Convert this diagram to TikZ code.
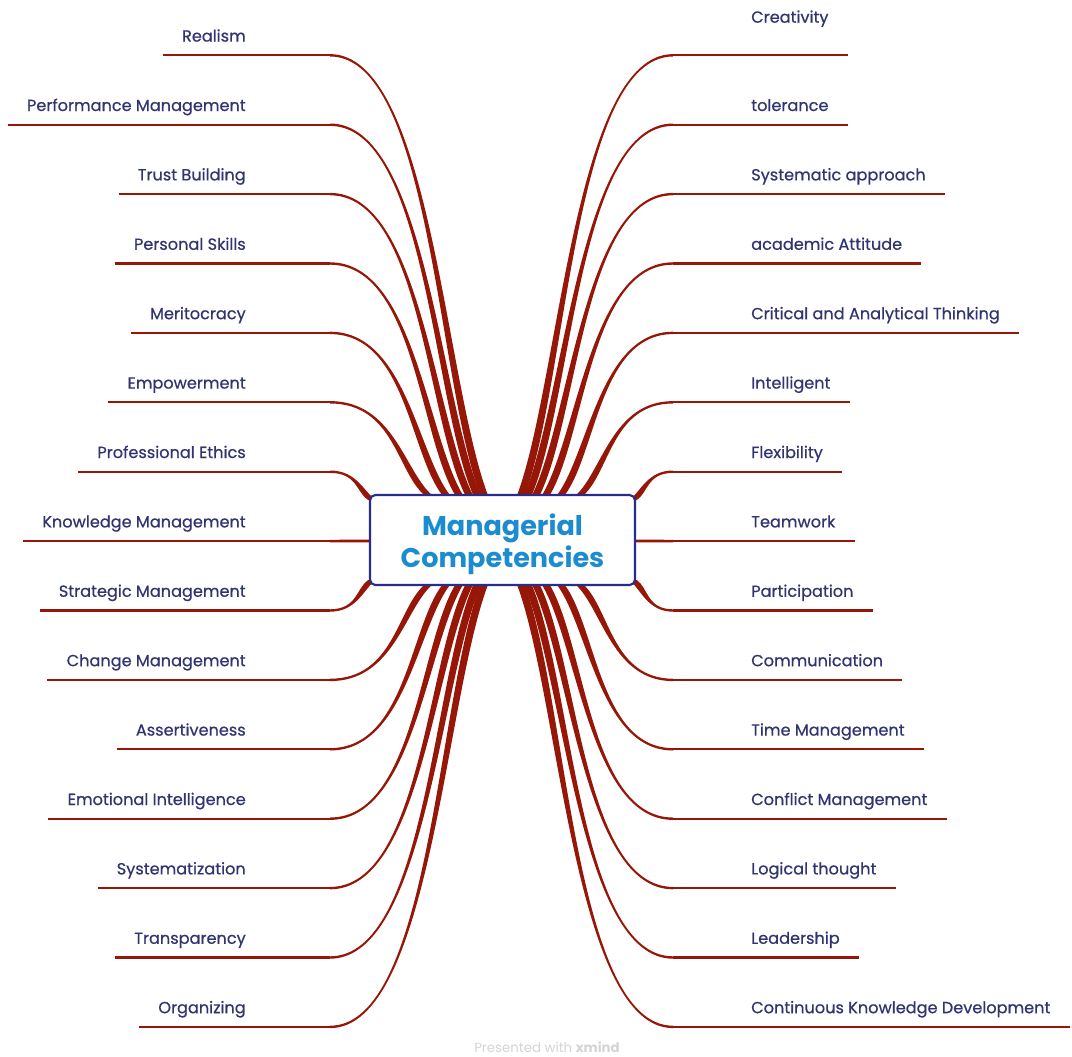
\documentclass[tikz,border=0pt]{standalone}
\usepackage{fontspec}
\newfontfamily\labfont{Poppins}[FakeBold=0.6]
\newfontfamily\ctrfont{Poppins}
\usetikzlibrary{calc,backgrounds}
\definecolor{brc}{RGB}{150,22,8}
\definecolor{labc}{RGB}{48,52,112}
\definecolor{boxc}{RGB}{40,44,140}
\definecolor{ctc}{RGB}{28,140,208}
\definecolor{wmc}{RGB}{212,212,212}
\newcommand\brwa{0.9pt}
\newcommand\brwb{2.9pt}
\newcommand\branchcurve[3]{%
  \fill[brc] let \p1=(#1), \p2=(#2) in
   ({\x1},{\y1+\brwa}) .. controls ({\x1+0.65*(\x2-\x1)},{\y1+\brwa}) and ({\x2-0.28*(\x2-\x1)+(#3)*\brwb},{\y2-0.26*(\y2-\y1)}) .. ({\x2+(#3)*\brwb},{\y2})
   -- ({\x2-(#3)*\brwb},{\y2}) .. controls ({\x2-0.28*(\x2-\x1)-(#3)*\brwb},{\y2-0.26*(\y2-\y1)}) and ({\x1+0.65*(\x2-\x1)},{\y1-\brwa}) .. ({\x1},{\y1-\brwa}) -- cycle;}
\begin{document}
\begin{tikzpicture}[x=0.75pt,y=-0.75pt,
  lab/.style={font=\labfont\fontsize{12.1}{15}\selectfont, text=labc, inner sep=0pt},
  uline/.style={draw=brc, line width=1.7pt},
  centerbox/.style={draw=boxc, line width=1.6pt, fill=white, rounded corners=4pt,
    minimum width=198.75pt, minimum height=67.5pt},
  centertext/.style={align=center, text=ctc, inner sep=0pt,
    font=\ctrfont\bfseries\fontsize{20.3}{24}\selectfont}]
\useasboundingbox (0,0) rectangle (1072,1057);
\node[centerbox] (c) at (502.5,540) {};
\node[centertext] (ct) at (502.5,544) {Managerial\\Competencies};
% left branches
\foreach \i/\t/\ex/\ey/\s in {
  1/Realism/484/495/1,
  2/Performance Management/477/495/1,
  3/Trust Building/469/495/1,
  4/Personal Skills/459/495/1,
  5/Meritocracy/446/495/1,
  6/Empowerment/428/495/1,
  7/Professional Ethics/372/500/1,
  8/Knowledge Management/370/541/0,
  9/Strategic Management/372/580/-1,
  10/Change Management/428/585/-1,
  11/Assertiveness/446/585/-1,
  12/Emotional Intelligence/459/585/-1,
  13/Systematization/469/585/-1,
  14/Transparency/477/585/-1,
  15/Organizing/484/585/-1}{
  \pgfmathsetmacro\ly{55.3+69.4*(\i-1)}
  \pgfmathsetmacro\by{\ly-13.7}
  \node[lab, anchor=base east] (L\i) at (246,\by) {\t};
  \coordinate (Ls\i) at (330,\ly);
  \coordinate (Le\i) at (\ex,\ey);
  \coordinate (Lt\i) at ($(L\i.west)+(-19,0)$);
  \begin{scope}[on background layer]
    \draw[uline] (Lt\i |- Ls\i) -- (Ls\i);
    \ifnum\i=8 \draw[uline, line width=2pt] (Ls\i) -- (Le\i); \else \branchcurve{Ls\i}{Le\i}{\s} \fi
  \end{scope}
}
% right branches
\foreach \i/\t/\ex/\ey/\s in {
  1/Creativity/521/495/-1,
  2/tolerance/528/495/-1,
  3/Systematic approach/536/495/-1,
  4/academic Attitude/546/495/-1,
  5/Critical and Analytical Thinking/561/495/-1,
  6/Intelligent/580/495/-1,
  7/Flexibility/633/500/-1,
  8/Teamwork/635/541/0,
  9/Participation/633/580/1,
  10/Communication/580/585/1,
  11/Time Management/561/585/1,
  12/Conflict Management/546/585/1,
  13/Logical thought/536/585/1,
  14/Leadership/528/585/1,
  15/Continuous Knowledge Development/521/585/1}{
  \pgfmathsetmacro\ly{55.3+69.4*(\i-1)}
  \pgfmathsetmacro\by{\ly-13.7}
  \ifnum\i=1 \def\by{22.7}\fi
  \node[lab, anchor=base west] (R\i) at (751,\by) {\t};
  \coordinate (Rs\i) at (673,\ly);
  \coordinate (Re\i) at (\ex,\ey);
  \coordinate (Rt\i) at ($(R\i.east)+(19,0)$);
  \begin{scope}[on background layer]
    \draw[uline] (Rs\i) -- (Rt\i |- Rs\i);
    \ifnum\i=8 \draw[uline, line width=2pt] (Rs\i) -- (Re\i); \else \branchcurve{Rs\i}{Re\i}{\s} \fi
  \end{scope}
}
\node[font=\ctrfont\fontsize{10}{12}\selectfont, text=wmc, anchor=base] (wm) at (547,1052) {Presented with \textbf{xmind}};
\end{tikzpicture}
\end{document}
